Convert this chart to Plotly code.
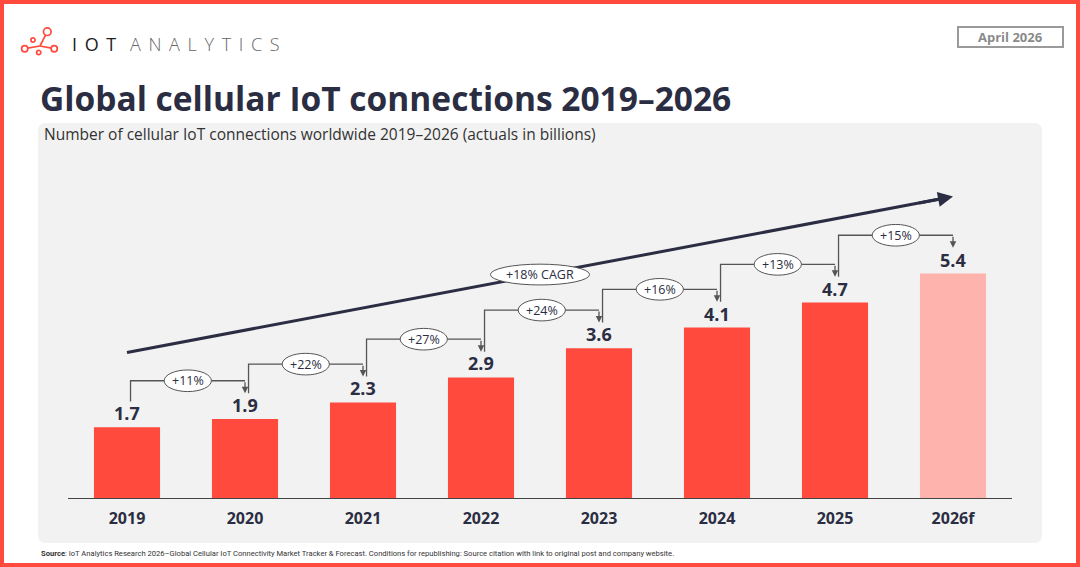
import plotly.graph_objects as go

# data (billions of cellular IoT connections)
years = ["2019", "2020", "2021", "2022", "2023", "2024", "2025", "2026f"]
connections = [1.7, 1.9, 2.3, 2.9, 3.6, 4.1, 4.7, 5.4]
growth_labels = ["+11%", "+22%", "+27%", "+24%", "+16%", "+13%", "+15%"]
cagr_label = "+18% CAGR"
forecast = [False, False, False, False, False, False, False, True]

W, H = 1080, 567
L, R, T, B = 68, 1012, 128, 498
YMAX = 8.9

RED = "#ff4a3d"
PINK = "#ffb3ad"
NAVY = "#2b2d42"
GREY_LINE = "#555555"
FONT = "Open Sans"
TS = "\u2009"  # thin space for the letter-spaced logo


def px(x):
    return (x - L) / (R - L)


def py(y):
    return (B - y) / (B - T)


def label(text, x, y, size, color, xanchor="left", family=FONT, weight=None):
    f = dict(family=family, size=size, color=color)
    if weight:
        f["weight"] = weight
    return dict(text=text, xref="paper", yref="paper", x=px(x), y=py(y), xanchor=xanchor,
                yanchor="middle", showarrow=False, font=f)


xs = list(range(len(years)))
colors = [PINK if f else RED for f in forecast]

fig = go.Figure()
fig.add_trace(go.Bar(x=xs, y=connections, marker=dict(color=colors, line=dict(width=0)),
                     width=0.56, hoverinfo="skip"))

shapes = []
annotations = []

# frame + grey panel
r = 8
x0, y0, x1, y1 = 38, 123, 1042, 543
panel = (f"M {px(x0 + r)},{py(y0)} L {px(x1 - r)},{py(y0)} Q {px(x1)},{py(y0)} {px(x1)},{py(y0 + r)} "
         f"L {px(x1)},{py(y1 - r)} Q {px(x1)},{py(y1)} {px(x1 - r)},{py(y1)} "
         f"L {px(x0 + r)},{py(y1)} Q {px(x0)},{py(y1)} {px(x0)},{py(y1 - r)} "
         f"L {px(x0)},{py(y0 + r)} Q {px(x0)},{py(y0)} {px(x0 + r)},{py(y0)} Z")
shapes.append(dict(type="path", path=panel, xref="paper", yref="paper", fillcolor="#f2f2f2",
                   line=dict(width=0), layer="below"))
shapes.append(dict(type="rect", xref="paper", yref="paper", x0=px(2), x1=px(1078), y0=py(2), y1=py(565),
                   line=dict(color=RED, width=4), layer="above"))

# date box
shapes.append(dict(type="rect", xref="paper", yref="paper", x0=px(958), x1=px(1063), y0=py(27), y1=py(47),
                   line=dict(color="#9a9a9a", width=2)))
annotations.append(label("<b>April 2026</b>", 1010.5, 37, 13, "#8a8a8a", xanchor="center"))

# logo icon: three linked nodes plus two loose dots
hub = (40, 46)
linked = [((47.3, 31.7), 3.8), ((24.7, 48.7), 3.1), ((54.2, 48.7), 3.1)]
loose = [((33, 40), 2.1), ((38.7, 52.5), 2.1)]
for (nx, ny), nr in linked:
    shapes.append(dict(type="line", xref="paper", yref="paper", x0=px(hub[0]), y0=py(hub[1]),
                       x1=px(nx), y1=py(ny), line=dict(color=RED, width=1.7)))
for (nx, ny), nr in linked + loose:
    shapes.append(dict(type="circle", xref="paper", yref="paper", x0=px(nx - nr), x1=px(nx + nr),
                       y0=py(ny - nr), y1=py(ny + nr), fillcolor="white", line=dict(color=RED, width=1.7)))
annotations.append(label((" " + TS).join("IOT"), 70, 44, 18, "#222222", weight=500))
annotations.append(label((" " + TS).join("ANALYTICS"), 128, 44, 18, "#666666", weight=300))

# titles
annotations.append(label("<b>Global cellular IoT connections 2019–2026</b>", 38, 98, 33.5, NAVY))
annotations.append(label("Number of cellular IoT connections worldwide 2019–2026 (actuals in billions)",
                         42, 134, 15.5, "#333333"))
annotations.append(label("<b>Source</b>: IoT Analytics Research 2026–Global Cellular IoT Connectivity Market "
                         "Tracker & Forecast. Conditions for republishing: Source citation with link to "
                         "original post and company website.",
                         39, 553, 7.6, "#333333", family="Liberation Sans Narrow, Roboto"))

# value labels
for i, v in enumerate(connections):
    annotations.append(dict(text=f"<b>{v}</b>", x=i, y=v, yanchor="bottom", yshift=0, showarrow=False,
                            font=dict(family=FONT, size=18, color=NAVY)))

# year-over-year brackets
for i, lab in enumerate(growth_labels):
    a, b = connections[i], connections[i + 1]
    xs0, xs1 = i + 0.03, i + 1
    yb = b + 0.92
    ytip = b + 0.62
    shapes.append(dict(type="path", path=f"M {xs0},{a + 0.62} L {xs0},{yb} L {xs1},{yb}",
                       line=dict(color=GREY_LINE, width=1.3)))
    annotations.append(dict(x=xs1, y=ytip, ax=xs1, ay=yb, axref="x", ayref="y", text="", showarrow=True,
                            arrowhead=2, arrowsize=1, arrowwidth=1.3, arrowcolor=GREY_LINE))
    cx = (xs0 + xs1) / 2
    shapes.append(dict(type="circle", x0=cx - 0.2, x1=cx + 0.2, y0=yb - 0.26, y1=yb + 0.26,
                       fillcolor="white", line=dict(color=GREY_LINE, width=1)))
    annotations.append(dict(text=lab, x=cx, y=yb, showarrow=False,
                            font=dict(family=FONT, size=12.5, color=NAVY)))

# CAGR arrow
ya, yz = connections[0] + 1.8, connections[-1] + 1.85
n = len(years) - 1
shapes.append(dict(type="line", x0=0, y0=ya, x1=n - 0.1, y1=ya + (yz - ya) * (n - 0.1) / n,
                   line=dict(color=NAVY, width=3)))
annotations.append(dict(x=n, y=yz, ax=n - 0.3, ay=ya + (yz - ya) * (n - 0.3) / n, axref="x", ayref="y",
                        text="", showarrow=True, arrowhead=2, arrowsize=1, arrowwidth=3, arrowcolor=NAVY))
cx = 3.5
cy = ya + (yz - ya) * cx / n
shapes.append(dict(type="circle", x0=cx - 0.42, x1=cx + 0.42, y0=cy - 0.25, y1=cy + 0.25,
                   fillcolor="white", line=dict(color=GREY_LINE, width=1)))
annotations.append(dict(text=cagr_label, x=cx, y=cy, showarrow=False,
                        font=dict(family=FONT, size=12.5, color=NAVY)))

fig.update_layout(
    width=W, height=H,
    margin=dict(l=L, r=W - R, t=T, b=H - B),
    paper_bgcolor="white", plot_bgcolor="rgba(0,0,0,0)",
    showlegend=False, bargap=0.44,
    shapes=shapes, annotations=annotations,
    xaxis=dict(range=[-0.5, 7.5], tickvals=xs, ticktext=[f"<b>{y}</b>" for y in years],
               tickfont=dict(family=FONT, size=16, color=NAVY), showgrid=False, zeroline=False,
               showline=True, linecolor="#444444", linewidth=1, ticks="", ticklabelstandoff=6,
               fixedrange=True),
    yaxis=dict(range=[0, YMAX], visible=False, fixedrange=True),
)

fig.write_html("out.html", config={"displayModeBar": False},
               post_script="document.body.style.margin='0';document.body.style.overflow='hidden';")
